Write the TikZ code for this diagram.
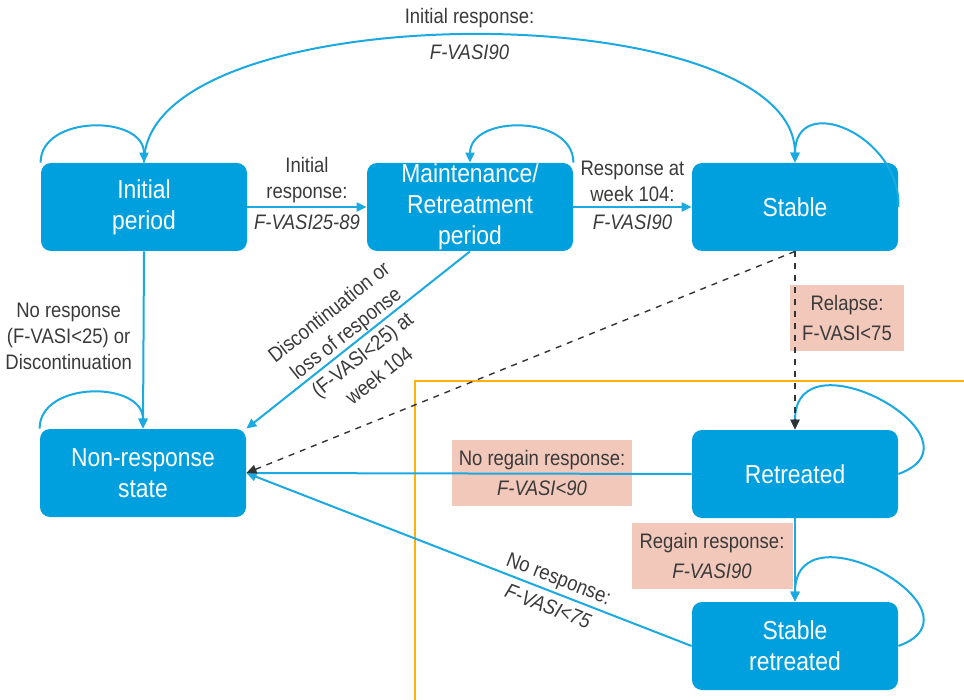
\documentclass[tikz,border=0pt]{standalone}
\usepackage{fontspec}
\setmainfont{Liberation Sans}[FakeStretch=0.88]
\usepackage{tikz}
\usetikzlibrary{arrows.meta}
\definecolor{boxblue}{HTML}{00A0DF}
\definecolor{lineblue}{HTML}{1BA9E1}
\definecolor{relapsepink}{HTML}{F2C8BB}
\definecolor{zoneorange}{HTML}{FFB10A}
\definecolor{labelgray}{HTML}{3A3A3A}

\begin{document}
\begin{tikzpicture}[x=0.5pt,y=-0.5pt]
	\useasboundingbox (0,0) rectangle (964,700);
	\draw[zoneorange,line width=1pt] (415,710) -- (415,381) -- (975,381);

	\begin{scope}[every node/.style={fill=relapsepink,text=labelgray,align=center,inner sep=2pt,
	              minimum height=33pt,font=\fontsize{10.5}{15}\selectfont}]
		\node[minimum width=57pt] (RL) at (847,318) {Relapse:\\F-VASI<75};
		\node[minimum width=90pt] (NG) at (542,473) {No regain response:\\\textit{F-VASI<90}};
		\node[minimum width=80.5pt] (RG) at (712,556) {Regain response:\\\textit{F-VASI90}};
	\end{scope}

	\begin{scope}[every node/.style={fill=boxblue,text=white,rounded corners=5pt,align=center,
	              minimum width=103pt,minimum height=44pt,inner sep=0pt,
	              font=\fontsize{13}{15.5}\selectfont}]
		\node (I) at (144,207) {Initial\\period};
		\node (M) at (470,207) {Maintenance/\\Retreatment\\period};
		\node (S) at (795,207) {Stable};
		\node (NR) at (143,473) {Non-response\\state};
		\node (R) at (795,474) {Retreated};
		\node (SR) at (795,646) {Stable\\retreated};
	\end{scope}

	\begin{scope}[>={Triangle[length=5pt,width=4.5pt]},
	              every node/.style={text=labelgray,align=center,font=\fontsize{10.5}{13}\selectfont},
	              every edge/.style={draw=lineblue,line width=1pt},
				every path/.style={->}]
		\path (I.east) edge node[above,yshift=-2pt]{Initial\\response:} node[below]{\textit{F-VASI25-89}} (M.west);
		\path (M.east) edge node[above,yshift=-1pt]{Response at\\week 104:} node[below]{\textit{F-VASI90}} (S.west);
		\path (I.north) edge[out=90,in=90,distance=85pt]
			node[above]{Initial response:} node[below,yshift=-1pt]{\textit{F-VASI90}} (S.north);
		\path (I.south) edge node[left,xshift=-2pt,yshift=2pt]{No response\\(F-VASI<25) or\\Discontinuation} (NR.north);
		\path (M.south) edge node[sloped,pos=0.52,font=\fontsize{10.5}{13.5}\selectfont]{Discontinuation or\\loss of response\\(F-VASI<25) at\\week 104} (NR.north east);
		\path (R.west) edge (NR.east);
		\path (SR.west) edge node[sloped,pos=0.31,font=\fontsize{10.5}{15}\selectfont]{No response:\\\textit{F-VASI<75}} (NR.east);
		\path (R.south) edge (SR.north);
		\path (I.north west) edge[out=90,in=90,distance=24pt] (I.north);
		\path (M.north east) edge[out=90,in=90,distance=24pt] (M.north);
		\path (S.east) edge[out=88,in=90,distance=36pt] (S.north);
		\path (NR.north west) edge[out=90,in=90,distance=24pt] (NR.north);
		\path (R.east) edge[out=20,in=90,distance=50pt] (R.north);
		\path (SR.east) edge[out=20,in=90,distance=50pt] (SR.north);
	\end{scope}

	\begin{scope}[>={Triangle[length=5pt,width=4.5pt]},
	              every edge/.style={draw=black!80,dashed,line width=0.7pt},
				every path/.style={->}]
		\path (S.south) edge (NR.east);
		\path (S.south) edge (R.north);
	\end{scope}
\end{tikzpicture}
\end{document}
